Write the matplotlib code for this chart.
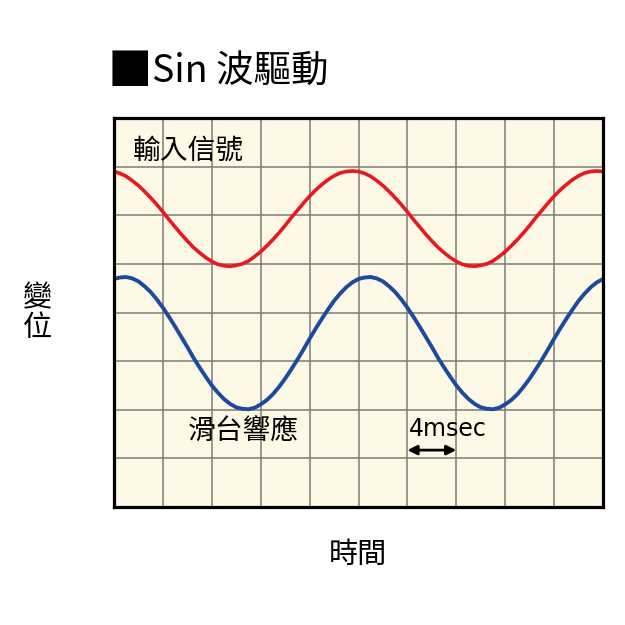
import matplotlib
matplotlib.use("Agg")
import matplotlib.pyplot as plt

plt.rcParams['font.family'] = ['Noto Sans CJK TC', 'DejaVu Sans']

# time axis in msec (0.5 ms steps, 0..40)
time_ms = [i * 0.5 for i in range(81)]
# input signal (red), in grid-cell units
_red_cycle = [6.90, 6.86, 6.80, 6.71, 6.61, 6.49, 6.36, 6.22, 6.07, 5.91,
              5.76, 5.61, 5.47, 5.34, 5.23, 5.13, 5.05, 4.99, 4.96, 4.95,
              4.97, 5.00, 5.06, 5.15, 5.25, 5.37, 5.50, 5.64, 5.79, 5.95,
              6.10, 6.25, 6.39, 6.52, 6.63, 6.73, 6.81, 6.87, 6.90, 6.91]
input_signal = _red_cycle + _red_cycle + [6.90]
# stage response (blue)
_blue_cycle = [4.69, 4.72, 4.73, 4.70, 4.64, 4.54, 4.42, 4.27, 4.10, 3.91,
               3.71, 3.50, 3.29, 3.07, 2.87, 2.68, 2.50, 2.35, 2.22, 2.12,
               2.05, 2.02, 2.01, 2.04, 2.11, 2.20, 2.32, 2.47, 2.64, 2.83,
               3.03, 3.24, 3.46, 3.67, 3.87, 4.06, 4.24, 4.39, 4.52, 4.62]
stage_response = _blue_cycle + _blue_cycle + [4.69]

title_mark = "■"
title_text = "Sin 波驅動"
input_label = "輸入信號"
response_label = "滑台響應"
scale_label = "4msec"
x_label = "時間"
y_label = "變\n位"

fig = plt.figure(figsize=(6.25, 6.25), dpi=100)
ax = fig.add_axes([114/625, 1-507/625, 489/625, 389/625])
ax.set_facecolor('#FEF8E6')
ax.set_xlim(0, 40)
ax.set_ylim(0, 8)
ax.set_xticks(range(0, 41, 4))
ax.set_yticks(range(0, 9))
ax.grid(True, color='#7d7b76', linewidth=1.1)
ax.tick_params(length=0, labelbottom=False, labelleft=False)
for s in ax.spines.values():
    s.set_linewidth(2.3)
    s.set_color('black')
ax.set_axisbelow(True)

ax.plot(time_ms, input_signal, color='#E8191E', linewidth=2.6,
        solid_capstyle='butt', solid_joinstyle='round')
ax.plot(time_ms, stage_response, color='#1C4A9C', linewidth=2.8,
        solid_capstyle='butt', solid_joinstyle='round')

ax.text(1.55, 7.33, input_label, fontsize=20, va='center', ha='left')
ax.text(6.05, 1.54, response_label, fontsize=20, va='center', ha='left')
ax.text(24.1, 1.6, scale_label, fontsize=17, va='center', ha='left', family=['DejaVu Sans'])
ax.annotate('', xy=(24.0, 1.17), xytext=(28.0, 1.17),
            arrowprops=dict(arrowstyle='<|-|>', color='black', lw=2,
                            mutation_scale=14, shrinkA=0, shrinkB=0))

fig.text(108/625, 1-72/625, title_mark, fontsize=32, va='center', ha='left')
fig.text(152/625, 1-72/625, title_text, fontsize=27, va='center', ha='left')
fig.text(37/625, 1-313/625, y_label, fontsize=21, va='center', ha='center', linespacing=1.0)
fig.text(358/625, 1-555/625, x_label, fontsize=21, va='center', ha='center')

fig.savefig('out.png', dpi=100, facecolor='white')
